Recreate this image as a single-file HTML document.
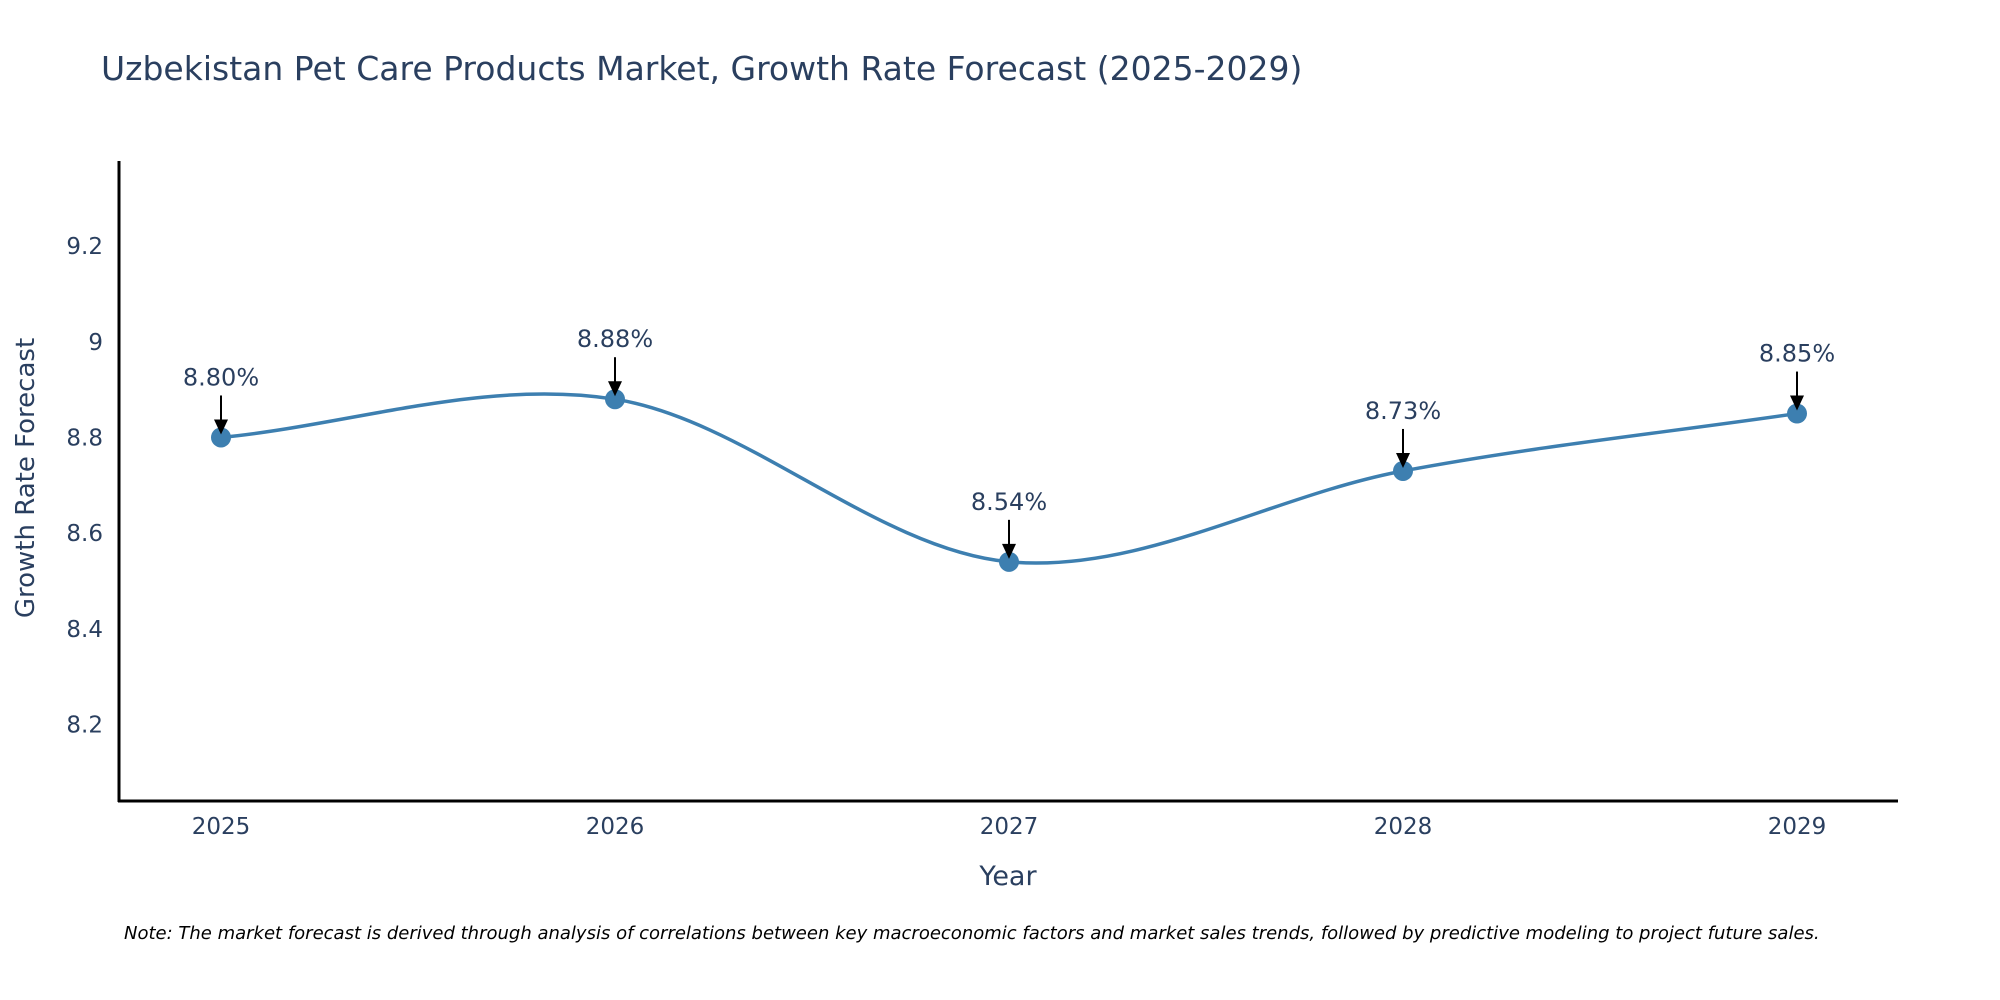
<!DOCTYPE html>
<html><head><meta charset="utf-8"><style>
html,body{margin:0;padding:0;background:#fff;}
svg{display:block;font-family:"DejaVu Sans","Liberation Sans",sans-serif;}
</style></head><body>
<svg id="chart" width="2000" height="1000" viewBox="0 0 2000 1000" xmlns="http://www.w3.org/2000/svg">
<rect width="2000" height="1000" fill="#fff"/>
<text x="101" y="80" font-size="33" fill="#2a3f5f">Uzbekistan Pet Care Products Market, Growth Rate Forecast (2025-2029)</text>
<g id="yticks"></g>
<g id="xticks"></g>
<line x1="119" y1="161" x2="119" y2="802" stroke="#000" stroke-width="3"/>
<line x1="118" y1="801" x2="1898" y2="801" stroke="#000" stroke-width="3"/>
<path id="series" fill="none" stroke="#3d7fb0" stroke-width="3.5"/>
<g id="marks"></g>
<text x="1008" y="885" font-size="27" fill="#2a3f5f" text-anchor="middle">Year</text>
<text transform="translate(34,478) rotate(-90)" font-size="26" fill="#2a3f5f" text-anchor="middle">Growth Rate Forecast</text>
<text x="124" y="939" font-size="18" font-style="italic" fill="#000">Note: The market forecast is derived through analysis of correlations between key macroeconomic factors and market sales trends, followed by predictive modeling to project future sales.</text>
</svg>
<script>
const years = ["2025","2026","2027","2028","2029"];
const values = [8.80, 8.88, 8.54, 8.73, 8.85];
const labels = ["8.80%","8.88%","8.54%","8.73%","8.85%"];
const yTickVals = [8.2, 8.4, 8.6, 8.8, 9.0, 9.2];
const yTickLabels = ["8.2","8.4","8.6","8.8","9","9.2"];

const NS = "http://www.w3.org/2000/svg";
const yMin = 8.04, yMax = 9.378, pyTop = 161, pyBot = 801;
function yScale(v){ return pyBot - (v - yMin) / (yMax - yMin) * (pyBot - pyTop); }
function xScale(i){ return 221 + i * 394; }
function mk(tag, attrs, parent){ const e = document.createElementNS(NS, tag); for (const k in attrs) e.setAttribute(k, attrs[k]); parent.appendChild(e); return e; }

const yt = document.getElementById('yticks');
yTickVals.forEach((v, i) => {
  const t = mk('text', {x: 103, y: yScale(v) + 8, 'font-size': 23, fill: '#2a3f5f', 'text-anchor': 'end'}, yt);
  
  
  t.textContent = yTickLabels[i];
});
const xt = document.getElementById('xticks');
years.forEach((y, i) => {
  const t = mk('text', {x: xScale(i), y: 834, 'font-size': 23, fill: '#2a3f5f', 'text-anchor': 'middle'}, xt);
  
  
  t.textContent = y;
});

const pts = values.map((v, i) => [xScale(i), yScale(v)]);
let d = 'M' + pts[0][0] + ',' + pts[0][1];
const s = 0.5;
for (let i = 0; i < pts.length - 1; i++) {
  const p0 = pts[Math.max(0, i - 1)], p1 = pts[i], p2 = pts[i + 1], p3 = pts[Math.min(pts.length - 1, i + 2)];
  const c1 = [p1[0] + (p2[0] - p0[0]) * s / 3 * (i === 0 ? 2 : 1), p1[1] + (p2[1] - p0[1]) * s / 3 * (i === 0 ? 2 : 1)];
  const last = i + 2 > pts.length - 1;
  const c2 = [p2[0] - (p3[0] - p1[0]) * s / 3 * (last ? 2 : 1), p2[1] - (p3[1] - p1[1]) * s / 3 * (last ? 2 : 1)];
  d += ' C' + c1[0] + ',' + c1[1] + ' ' + c2[0] + ',' + c2[1] + ' ' + p2[0] + ',' + p2[1];
}
document.getElementById('series').setAttribute('d', d);

const mg = document.getElementById('marks');
pts.forEach((p, i) => {
  const c = mk('circle', {cx: p[0], cy: p[1], r: 10, fill: '#3d7fb0'}, mg);
  
  
  const ln = mk('line', {x1: p[0], y1: p[1] - 42, x2: p[0], y2: p[1] - 14, stroke: '#000', 'stroke-width': 2}, mg);
  
  
  const h = mk('polygon', {points: (p[0]-7)+','+(p[1]-18)+' '+(p[0]+7)+','+(p[1]-18)+' '+p[0]+','+(p[1]-3), fill: '#000'}, mg);
  
  
  const t = mk('text', {x: p[0], y: p[1] - 52, 'font-size': 24, fill: '#2a3f5f', 'text-anchor': 'middle'}, mg);
  
  
  t.textContent = labels[i];
});
</script>
</body></html>
